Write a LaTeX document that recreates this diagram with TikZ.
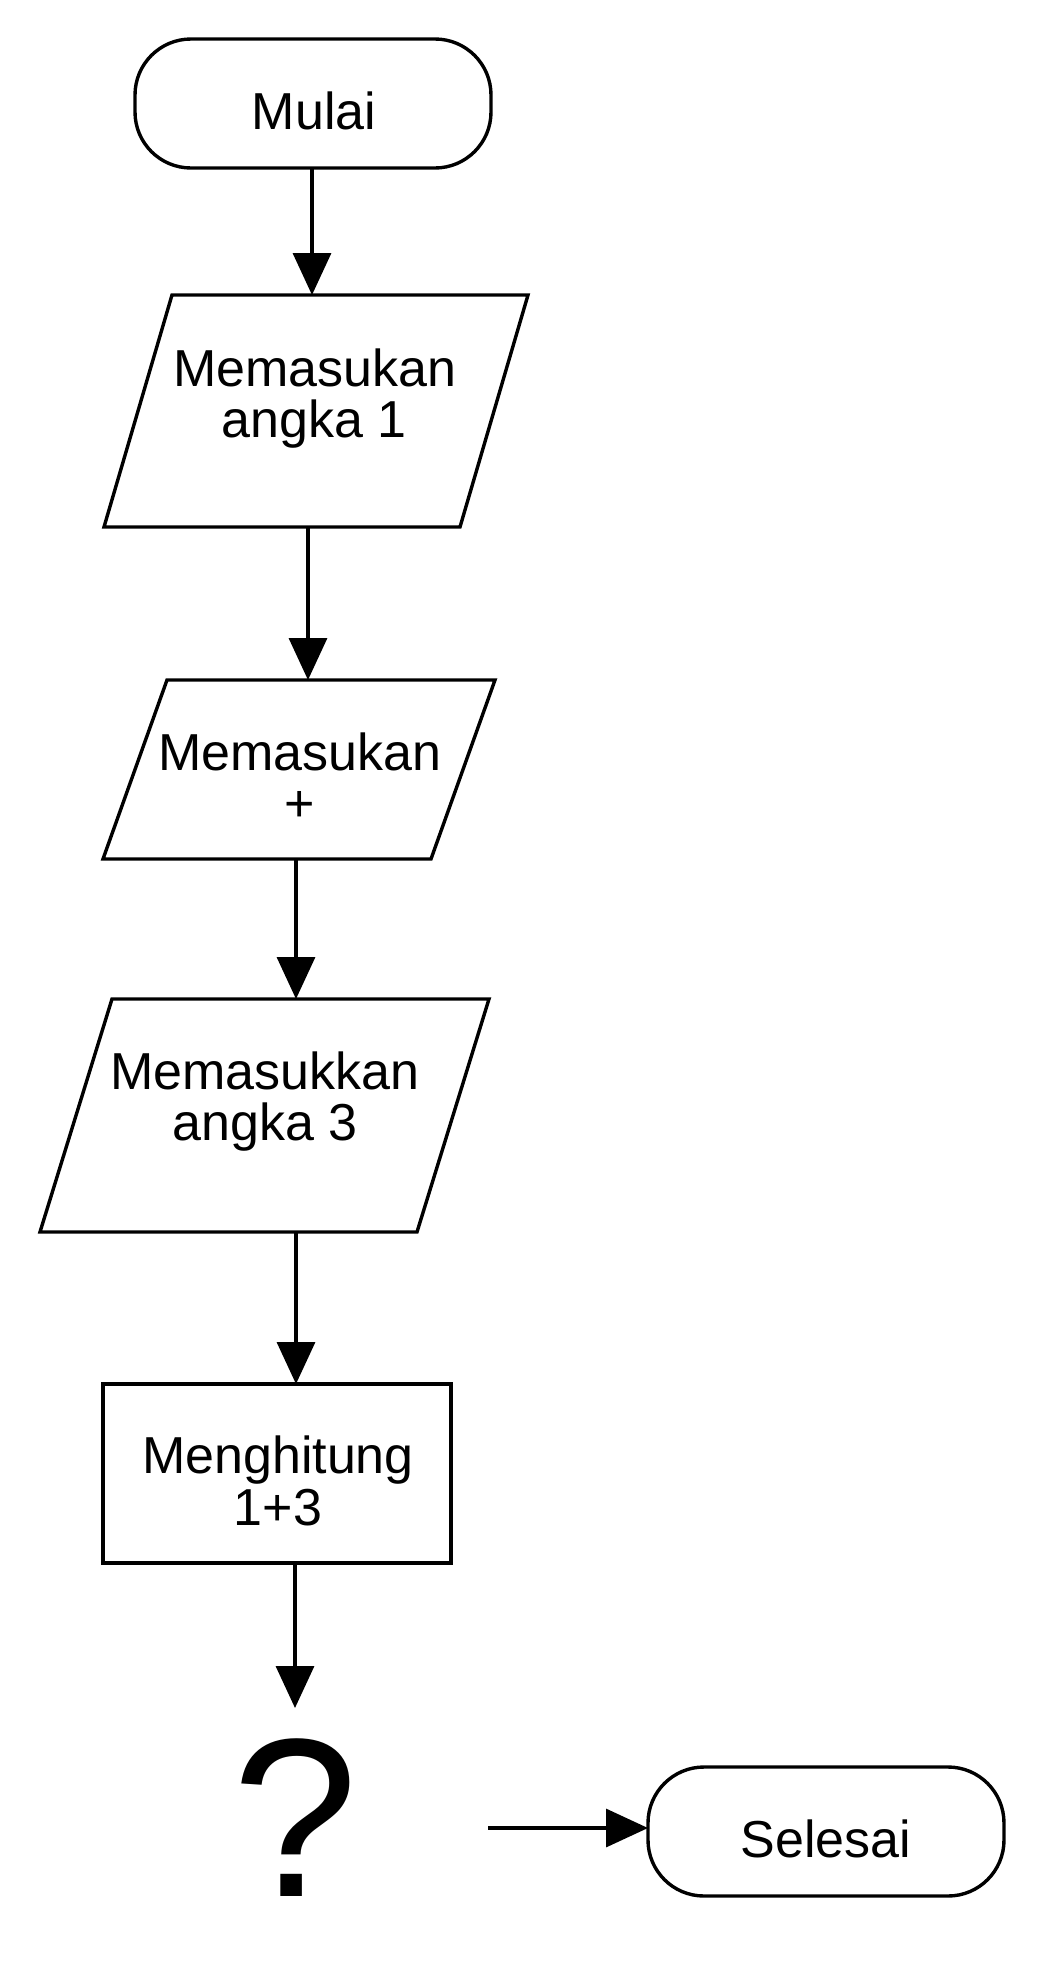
\documentclass[tikz,border=0pt]{standalone}
\usepackage{fontspec}
\setmainfont{Liberation Sans}
\usetikzlibrary{arrows.meta,calc}
\begin{document}
\begin{tikzpicture}[x=0.5pt,y=-0.5pt,
  lw/.style={line width=1.7pt},
  term/.style={draw,lw,rectangle,rounded corners=28pt,minimum width=178pt,minimum height=64.5pt,inner sep=0pt,outer sep=0pt},
  proc/.style={draw,lw,rectangle,minimum width=174pt,minimum height=89.5pt,inner sep=0pt,outer sep=0pt},
  pbox/.style={rectangle,inner sep=0pt,outer sep=0pt},
  lbl/.style={anchor=base,inner sep=0pt,font=\fontsize{26pt}{26pt}\selectfont},
  arr/.style={lw,-{Triangle[length=21pt,width=19pt]}},
]
\useasboundingbox (0,0) rectangle (1045,1976);

% terminals and process
\node[term] (m) at (313,103.5) {};
\node[lbl] (mt) at (314,129) {Mulai};

\node[pbox,minimum width=212pt,minimum height=116pt] (p1) at (316,411) {};
\draw[lw] ($(p1.north west)+(68,0)$) -- (p1.north east) -- ($(p1.south east)+(-68,0)$) -- (p1.south west) -- cycle;
\node[lbl] (p1a) at (315,386) {Memasukan};
\node[lbl] (p1b) at (314,437) {angka 1};

\node[pbox,minimum width=196pt,minimum height=89.5pt] (p2) at (299,769.5) {};
\draw[lw] ($(p2.north west)+(64,0)$) -- (p2.north east) -- ($(p2.south east)+(-64,0)$) -- (p2.south west) -- cycle;
\node[lbl] (p2a) at (300,770) {Memasukan};
\node[lbl] (p2b) at (300,821) {+};

\node[pbox,minimum width=224.5pt,minimum height=116.5pt] (p3) at (264.5,1115.5) {};
\draw[lw] ($(p3.north west)+(72,0)$) -- (p3.north east) -- ($(p3.south east)+(-72,0)$) -- (p3.south west) -- cycle;
\node[lbl] (p3a) at (265,1089) {Memasukkan};
\node[lbl] (p3b) at (265,1140) {angka 3};

\node[proc] (r) at (277,1473.5) {};
\node[lbl] (ra) at (278,1473) {Menghitung};
\node[lbl] (rb) at (278,1525) {1+3};

\node[anchor=base,inner sep=0pt,font=\fontsize{113pt}{114pt}\selectfont] (q) at (295,1896) {?};

\node[term] (s) at (826,1831.5) {};
\node[lbl] (st) at (826,1857) {Selesai};

% connector positions
\coordinate (x1) at (312,0);
\coordinate (x2) at (308,0);
\coordinate (x3) at (296,0);
\coordinate (x4) at (296,0);
\coordinate (qtip) at (295,1708);
\coordinate (hs) at (488,1828);

\draw[arr] (m.south -| x1) -- (p1.north -| x1);
\draw[arr] (p1.south -| x2) -- (p2.north -| x2);
\draw[arr] (p2.south -| x3) -- (p3.north -| x3);
\draw[arr] (p3.south -| x4) -- (r.north -| x4);
\draw[arr] (r.south -| qtip) -- (qtip);
\draw[arr] (hs) -- (hs -| s.west);
\end{tikzpicture}
\end{document}
